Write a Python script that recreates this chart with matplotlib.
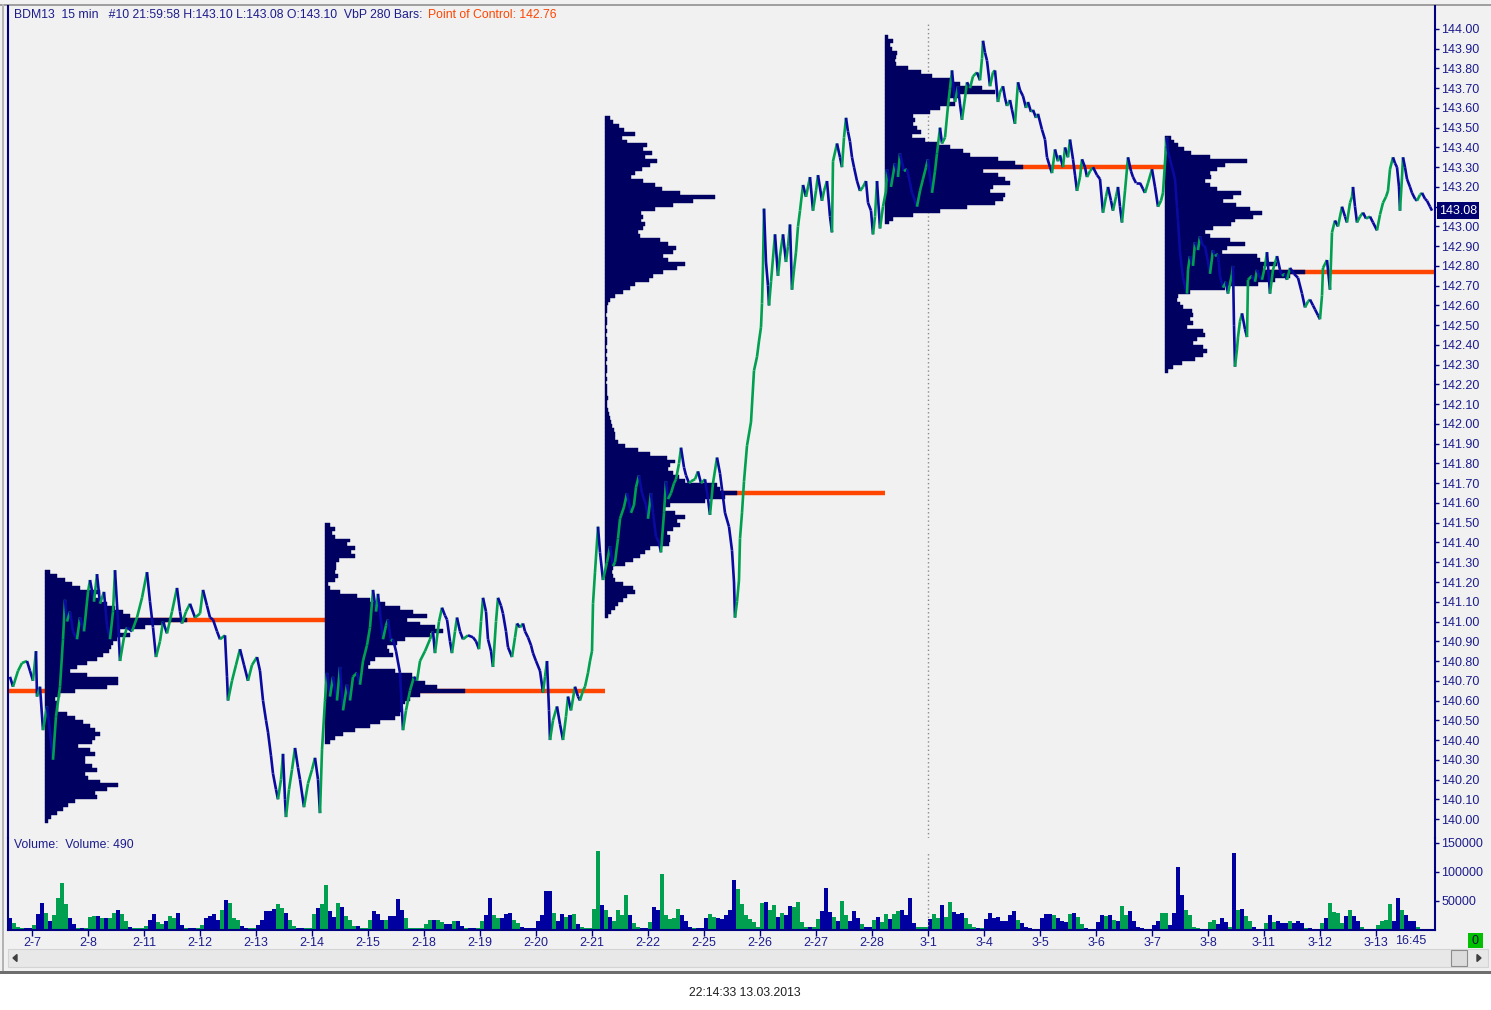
import numpy as np
import matplotlib.pyplot as plt
import matplotlib.transforms as mtransforms
from matplotlib.collections import LineCollection
from matplotlib.patches import Rectangle, Polygon

plt.rcParams["font.family"] = ["Liberation Sans", "DejaVu Sans"]

W, H = 1491, 1010
NAVY = "#000060"
LINE_BLUE = "#0a0aa0"
GREEN = "#00a050"
POC_RED = "#ff4500"
TXT = "#1c1c8c"
BG = "#f1f1f1"

# ---- data -------------------------------------------------------------
bars_per_day = 56
day_labels = ["2-7", "2-8", "2-11", "2-12", "2-13", "2-14", "2-15", "2-18", "2-19",
              "2-20", "2-21", "2-22", "2-25", "2-26", "2-27", "2-28", "3-1", "3-4",
              "3-5", "3-6", "3-7", "3-8", "3-11", "3-12", "3-13"]
month_start_day = 16  # 3-1
price_ticks = np.round(np.arange(140.0, 144.001, 0.1), 2)
last_price = 143.08
prev_poc = 140.65

# (bar index since 2-7 open, close price)
price_pts = [
    (-22, 140.72), (-19, 140.67), (-14, 140.75), (-10, 140.79), (-5, 140.80), (-2, 140.75),
    (1, 140.70), (4, 140.85), (5, 140.62), (8, 140.67), (11, 140.45), (15, 140.57),
    (18, 140.44), (21, 140.30), (24, 140.52), (28, 140.67), (31, 140.91), (33, 141.11),
    (35, 141.00), (38, 141.05), (41, 140.95), (45, 140.91), (48, 141.02), (52, 140.95),
    (56, 141.15), (58, 141.21), (62, 141.10), (65, 141.24), (68, 141.09), (72, 141.15),
    (75, 140.98), (78, 140.91), (81, 141.05), (83, 141.26), (86, 141.00), (88, 140.80),
    (92, 140.92), (95, 140.97), (100, 140.95), (105, 141.02), (110, 141.12), (115, 141.25),
    (118, 141.10), (121, 140.97), (124, 140.82), (128, 140.90), (131, 141.00), (135, 140.94),
    (140, 141.05), (145, 141.17), (148, 141.05), (150, 140.99), (154, 141.05), (158, 141.09),
    (163, 141.02), (168, 141.04), (171, 141.16), (175, 141.08), (178, 141.02), (181, 141.01),
    (185, 140.95), (188, 140.91), (193, 140.93), (195, 140.72), (196, 140.60), (200, 140.70),
    (204, 140.78), (208, 140.86), (212, 140.78), (216, 140.70), (220, 140.78), (225, 140.82),
    (228, 140.75), (231, 140.60), (234, 140.50), (236, 140.44), (239, 140.32), (241, 140.23),
    (244, 140.15), (246, 140.10), (249, 140.20), (251, 140.33), (253, 140.10), (254, 140.01),
    (257, 140.15), (260, 140.25), (263, 140.36), (266, 140.26), (268, 140.20), (272, 140.06),
    (276, 140.18), (280, 140.25), (283, 140.31), (286, 140.20), (288, 140.03), (290, 140.35),
    (293, 140.60), (295, 140.74), (298, 140.62), (301, 140.72), (305, 140.60), (308, 140.77),
    (311, 140.55), (315, 140.68), (318, 140.60), (321, 140.72), (325, 140.74), (328, 140.68),
    (331, 140.80), (335, 140.88), (338, 140.97), (341, 141.16), (344, 141.05), (346, 141.14),
    (349, 141.00), (351, 140.91), (354, 140.98), (356, 141.01), (359, 140.90), (361, 140.91),
    (364, 140.85), (368, 140.74), (371, 140.45), (374, 140.55), (378, 140.65), (382, 140.72),
    (385, 140.70), (388, 140.80), (393, 140.85), (398, 140.91), (401, 140.95), (403, 140.84),
    (407, 141.00), (410, 141.07), (413, 141.03), (415, 141.01), (418, 140.90), (420, 140.84),
    (423, 140.95), (425, 141.02), (428, 140.95), (431, 140.91), (436, 140.93), (441, 140.92),
    (444, 140.90), (447, 140.86), (449, 141.00), (451, 141.12), (454, 141.05), (456, 140.91),
    (459, 140.85), (461, 140.77), (464, 141.00), (466, 141.12), (469, 141.08), (471, 141.04),
    (474, 140.95), (476, 140.87), (480, 140.82), (483, 140.92), (485, 140.99), (488, 140.97),
    (491, 140.99), (493, 140.95), (496, 140.92), (499, 140.88), (501, 140.84), (504, 140.80),
    (508, 140.75), (511, 140.64), (513, 140.72), (515, 140.80), (517, 140.55), (518, 140.40),
    (521, 140.50), (525, 140.57), (528, 140.48), (531, 140.40), (534, 140.52), (536, 140.62),
    (539, 140.55), (543, 140.67), (546, 140.62), (548, 140.60), (551, 140.65), (553, 140.67),
    (556, 140.74), (558, 140.80), (560, 140.85), (561, 141.09), (563, 141.25), (566, 141.48),
    (568, 141.35), (571, 141.21), (575, 141.30), (578, 141.38), (581, 141.28), (583, 141.30),
    (586, 141.42), (588, 141.52), (592, 141.58), (595, 141.65), (599, 141.55), (602, 141.59),
    (604, 141.68), (607, 141.74), (610, 141.65), (614, 141.59), (616, 141.52), (619, 141.65),
    (621, 141.55), (624, 141.43), (627, 141.40), (629, 141.35), (632, 141.55), (634, 141.71),
    (636, 141.62), (639, 141.65), (642, 141.70), (644, 141.72), (647, 141.80), (649, 141.88),
    (652, 141.78), (654, 141.74), (657, 141.70), (659, 141.71), (663, 141.72), (666, 141.76),
    (669, 141.70), (673, 141.72), (676, 141.62), (678, 141.54), (681, 141.70), (685, 141.83),
    (688, 141.75), (690, 141.67), (693, 141.55), (697, 141.48), (700, 141.36), (702, 141.20),
    (703, 141.02), (705, 141.10), (707, 141.21), (708, 141.42), (710, 141.55), (712, 141.71),
    (715, 141.89), (719, 142.01), (722, 142.27), (725, 142.34), (727, 142.42), (729, 142.49),
    (730, 142.61), (731, 142.80), (732, 143.09), (734, 142.82), (736, 142.70), (737, 142.60),
    (739, 142.72), (741, 142.84), (743, 142.96), (746, 142.75), (748, 142.85), (751, 142.96),
    (754, 142.82), (756, 142.90), (758, 143.01), (760, 142.68), (762, 142.78), (764, 142.87),
    (766, 143.00), (768, 143.08), (771, 143.21), (774, 143.15), (778, 143.25), (781, 143.08),
    (784, 143.18), (786, 143.26), (790, 143.13), (792, 143.18), (795, 143.23), (798, 143.05),
    (800, 142.97), (801, 143.33), (805, 143.42), (808, 143.35), (810, 143.30), (812, 143.45),
    (814, 143.55), (816, 143.48), (818, 143.43), (820, 143.35), (822, 143.30), (825, 143.23),
    (828, 143.18), (831, 143.20), (834, 143.23), (836, 143.12), (839, 143.08), (841, 142.96),
    (843, 143.05), (845, 143.23), (848, 142.99), (851, 143.10), (854, 143.18), (855, 143.29),
    (859, 143.20), (863, 143.32), (866, 143.25), (868, 143.37), (872, 143.28), (875, 143.29),
    (878, 143.22), (880, 143.17), (883, 143.13), (885, 143.10), (888, 143.18), (891, 143.24),
    (894, 143.30), (896, 143.34), (898, 143.25), (900, 143.17), (903, 143.28), (905, 143.37),
    (908, 143.50), (910, 143.42), (913, 143.45), (916, 143.61), (918, 143.70), (920, 143.79),
    (922, 143.68), (923, 143.63), (926, 143.71), (928, 143.62), (930, 143.54), (933, 143.65),
    (935, 143.73), (938, 143.70), (941, 143.76), (945, 143.78), (948, 143.74), (950, 143.85),
    (951, 143.94), (953, 143.88), (955, 143.84), (958, 143.71), (961, 143.78), (963, 143.79),
    (966, 143.63), (968, 143.68), (971, 143.71), (973, 143.65), (975, 143.61), (978, 143.64),
    (980, 143.59), (983, 143.52), (986, 143.73), (988, 143.69), (991, 143.66), (994, 143.60),
    (996, 143.63), (999, 143.58), (1001, 143.59), (1004, 143.55), (1006, 143.57), (1010, 143.49),
    (1013, 143.44), (1015, 143.35), (1018, 143.30), (1020, 143.27), (1023, 143.39), (1026, 143.33),
    (1028, 143.36), (1031, 143.30), (1033, 143.40), (1036, 143.35), (1038, 143.44), (1041, 143.34),
    (1043, 143.26), (1045, 143.18), (1048, 143.25), (1050, 143.34), (1053, 143.30), (1055, 143.25),
    (1058, 143.28), (1061, 143.30), (1065, 143.26), (1068, 143.24), (1071, 143.07), (1074, 143.15),
    (1076, 143.20), (1079, 143.13), (1081, 143.08), (1084, 143.15), (1086, 143.20), (1088, 143.10),
    (1090, 143.02), (1093, 143.18), (1096, 143.35), (1099, 143.28), (1101, 143.25), (1104, 143.22),
    (1108, 143.22), (1111, 143.19), (1113, 143.17), (1116, 143.22), (1120, 143.29), (1123, 143.20),
    (1126, 143.10), (1129, 143.13), (1131, 143.17), (1134, 143.40), (1135, 143.45), (1136, 143.38),
    (1138, 143.34), (1140, 143.30), (1143, 143.24), (1145, 143.10), (1146, 143.03), (1148, 142.87),
    (1151, 142.74), (1153, 142.70), (1155, 142.66), (1156, 142.78), (1158, 142.85), (1161, 142.80),
    (1163, 142.92), (1166, 142.88), (1168, 142.95), (1171, 142.90), (1173, 142.90), (1176, 142.82),
    (1178, 142.76), (1181, 142.88), (1183, 142.85), (1186, 142.86), (1188, 142.75), (1191, 142.69),
    (1194, 142.72), (1196, 142.66), (1200, 142.76), (1201, 142.80), (1202, 142.50), (1203, 142.29),
    (1205, 142.38), (1206, 142.44), (1208, 142.52), (1210, 142.56), (1213, 142.48), (1215, 142.44),
    (1216, 142.73), (1220, 142.75), (1223, 142.72), (1225, 142.78), (1228, 142.74), (1230, 142.73),
    (1233, 142.80), (1235, 142.87), (1238, 142.66), (1241, 142.78), (1245, 142.85), (1248, 142.78),
    (1250, 142.75), (1253, 142.76), (1255, 142.73), (1258, 142.79), (1262, 142.76), (1266, 142.74),
    (1270, 142.66), (1273, 142.59), (1276, 142.62), (1278, 142.63), (1281, 142.60), (1283, 142.58),
    (1286, 142.55), (1288, 142.53), (1290, 142.65), (1291, 142.79), (1295, 142.83), (1298, 142.68),
    (1300, 142.97), (1303, 143.03), (1306, 143.00), (1310, 143.10), (1313, 143.05), (1315, 143.02),
    (1318, 143.12), (1320, 143.15), (1321, 143.20), (1323, 143.10), (1325, 143.02), (1328, 143.05),
    (1331, 143.07), (1334, 143.04), (1338, 143.05), (1341, 143.02), (1345, 142.98), (1348, 143.06),
    (1351, 143.12), (1354, 143.15), (1356, 143.18), (1358, 143.29), (1361, 143.35), (1363, 143.32),
    (1365, 143.30), (1367, 143.20), (1368, 143.08), (1370, 143.25), (1371, 143.35), (1373, 143.30),
    (1375, 143.24), (1378, 143.20), (1380, 143.17), (1383, 143.14), (1385, 143.13), (1388, 143.16),
    (1390, 143.17), (1393, 143.14), (1395, 143.13), (1398, 143.10), (1400, 143.08),
]

# volume profiles (280 bars each): start bar, top price, widths per 0.02 level (top -> bottom)
vp_step = 0.02
vp_start = [13, 293, 573, 853, 1133]
vp_top = [141.26, 141.50, 143.56, 143.97, 143.46]
vp1 = [5, 12, 20, 27, 35, 55, 50, 55, 62, 70, 78, 85, 142, 120, 100, 75, 85, 72, 68, 66,
       64, 58, 52, 42, 32, 25, 42, 73, 73, 62, 30, 15, 10, 12, 13, 13, 22, 30, 38, 45,
       50, 55, 50, 47, 33, 45, 50, 40, 40, 47, 52, 40, 43, 55, 73, 62, 50, 52, 30, 23,
       18, 12, 6, 3]
vp2 = [5, 10, 7, 10, 25, 22, 30, 26, 30, 14, 11, 11, 10, 13, 10, 3, 5, 15, 32, 45,
       60, 75, 88, 102, 82, 95, 110, 118, 105, 80, 72, 62, 64, 68, 50, 45, 43, 70, 87, 90,
       100, 112, 140, 95, 85, 80, 76, 76, 75, 70, 55, 45, 30, 18, 10, 5]
vp3 = [5, 8, 14, 19, 30, 17, 22, 42, 38, 47, 40, 52, 45, 37, 30, 26, 38, 50, 57, 75,
       110, 88, 68, 50, 36, 38, 36, 40, 38, 33, 35, 55, 63, 71, 68, 58, 63, 80, 72, 58,
       48, 44, 30, 25, 18, 10, 5,
       3, 2, 2, 1, 2, 2, 1, 2, 1, 2, 2, 1, 2, 1, 2, 1, 2, 2, 1, 2,
       1, 2, 2, 2, 3, 2, 2, 3, 4, 5,
       6, 7, 9, 10, 10, 13, 20, 33, 45, 62, 70, 65, 63, 68, 74, 80, 112, 115, 132, 120,
       100, 65, 60, 70, 80, 72, 75, 68, 62, 65, 65, 64, 45, 40, 35, 28, 20, 8, 7, 8,
       10, 18, 28, 30, 22, 18, 13, 10, 6, 3]
vp4 = [3, 8, 5, 7, 12, 11, 10, 11, 23, 36, 47, 65, 75, 97, 110, 73, 63, 70, 55, 45,
       28, 30, 28, 32, 36, 27, 40, 52, 65, 78, 85, 113, 130, 138, 98, 113, 120, 125, 108, 105,
       120, 118, 110, 82, 55, 28, 8, 4]
vp5 = [6, 9, 13, 19, 26, 45, 82, 60, 52, 45, 46, 40, 45, 52, 76, 68, 58, 71, 85, 97,
       88, 70, 66, 48, 40, 45, 65, 80, 62, 57, 92, 95, 112, 98, 140, 125, 110, 93, 60, 25,
       13, 12, 15, 18, 27, 28, 25, 28, 22, 38, 40, 32, 28, 38, 42, 38, 30, 17, 8, 3]
profiles = [vp1, vp2, vp3, vp4, vp5]

# volume in thousands, one value per 4 bars, starting 24 bars before 2-7
vol_bucket = 4
vol_pre = [20, 12, 5, 4, 4, 4]
vol_days = [
    [9, 27, 47, 30, 15, 26, 56, 81, 45, 20, 10, 3, 3, 3],
    [22, 24, 24, 20, 21, 21, 30, 34, 27, 15, 5, 3, 3, 3],
    [7, 18, 27, 14, 11, 15, 24, 20, 30, 9, 3, 3, 3, 3],
    [9, 21, 24, 28, 18, 34, 51, 47, 21, 18, 7, 3, 3, 3],
    [9, 17, 32, 33, 37, 45, 38, 30, 18, 7, 3, 3, 3, 3],
    [27, 38, 45, 78, 33, 22, 47, 40, 24, 18, 7, 7, 3, 3],
    [18, 32, 28, 18, 17, 24, 24, 53, 34, 20, 4, 4, 4, 4],
    [11, 17, 18, 18, 14, 11, 11, 15, 15, 7, 3, 3, 3, 3],
    [15, 25, 55, 25, 20, 20, 28, 30, 18, 12, 6, 3, 3, 3],
    [16, 25, 68, 68, 30, 16, 28, 23, 25, 27, 10, 5, 4, 4],
    [36, 137, 43, 35, 23, 16, 35, 25, 61, 25, 12, 6, 3, 3],
    [13, 40, 34, 96, 25, 19, 21, 37, 25, 15, 6, 3, 3, 3],
    [21, 27, 23, 21, 19, 26, 34, 87, 71, 45, 26, 19, 13, 5],
    [47, 49, 34, 43, 22, 29, 25, 41, 39, 49, 13, 5, 5, 5],
    [19, 32, 72, 31, 22, 16, 50, 25, 16, 33, 21, 10, 5, 5],
    [17, 22, 13, 28, 19, 27, 33, 34, 25, 55, 12, 5, 5, 5],
    [19, 28, 21, 43, 23, 49, 31, 27, 29, 21, 10, 5, 3, 3],
    [19, 29, 21, 23, 16, 15, 25, 33, 17, 12, 5, 4, 2, 2],
    [20, 28, 28, 25, 20, 15, 14, 27, 29, 22, 10, 3, 2, 2],
    [14, 26, 24, 25, 17, 15, 41, 25, 33, 16, 6, 3, 2, 2],
    [8, 16, 30, 30, 9, 30, 108, 60, 35, 25, 6, 3, 2, 2],
    [14, 17, 10, 20, 14, 5, 132, 35, 37, 24, 16, 5, 2, 2],
    [12, 25, 14, 15, 12, 12, 15, 12, 15, 12, 3, 3, 2, 2],
    [12, 20, 47, 31, 29, 12, 24, 35, 24, 15, 6, 2, 2, 2],
    [9, 15, 18, 45, 15, 56, 35, 26, 15, 15, 5, 2, 2, 2],
]
vol_ticks = [50000, 100000, 150000]

# ---- figure ---------------------------------------------------------------
fig = plt.figure(figsize=(W / 100, H / 100), dpi=100)
fig.patch.set_facecolor("white")


def fx(px):
    return px / W


def fy(py):
    return 1 - py / H


def box(x0, y0, x1, y1, **kw):
    fig.add_artist(Rectangle((fx(x0), fy(y1)), fx(x1) - fx(x0), fy(y0) - fy(y1),
                             transform=fig.transFigure, **kw))


# window chrome
box(0, 0, W, 974, facecolor=BG, edgecolor="none", zorder=-5)
box(0, 4, W, 6, facecolor="#a0a0a0", edgecolor="none", zorder=-4)
box(2, 4, 4, 972, facecolor="#b4b4b4", edgecolor="none", zorder=-4)
box(0, 971, W, 974, facecolor="#6e6e6e", edgecolor="none", zorder=-4)
box(8, 949, 1488, 967, facecolor="#e8e8e8", edgecolor="#d4d4d4", lw=0.8, zorder=-3)
box(1451, 950, 1467, 966, facecolor="#dcdcdc", edgecolor="#8c8c8c", lw=0.8, zorder=-2)
fig.add_artist(Polygon([(fx(13), fy(958)), (fx(17), fy(954.5)), (fx(17), fy(961.5))],
                       closed=True, transform=fig.transFigure, color="#404040", zorder=-2))
fig.add_artist(Polygon([(fx(1481), fy(958)), (fx(1477), fy(954.5)), (fx(1477), fy(961.5))],
                       closed=True, transform=fig.transFigure, color="#404040", zorder=-2))
box(1468, 933, 1483, 948, facecolor="#00c000", edgecolor="none", zorder=-2)
fig.text(fx(1475.5), fy(940.5), "0", ha="center", va="center", fontsize=9, color="#101040")

# ---- price pane -----------------------------------------------------------
ax = fig.add_axes([fx(8), fy(838), fx(1435) - fx(8), fy(6) - fy(838)])
ax.set_facecolor(BG)
ax.set_xlim(-24, 1403)
ax.set_ylim(139.904, 144.116)
for side in ["top", "bottom"]:
    ax.spines[side].set_visible(False)
for side in ["left", "right"]:
    ax.spines[side].set_color("#000080")
    ax.spines[side].set_linewidth(1.5)
ax.set_xticks([])
ax.yaxis.tick_right()
ax.set_yticks(price_ticks)
# the last-price box sits on top of the neighbouring tick label
ax.set_yticklabels(["" if abs(v - last_price) < 0.05 else f"{v:.2f}" for v in price_ticks])
ax.tick_params(axis="y", right=True, left=False, length=3, width=1, color="#000080",
               labelcolor=TXT, labelsize=9, pad=1.5)

# previous point of control carried in from the left
ax.hlines(prev_poc, -24, vp_start[0], color=POC_RED, lw=3.2, zorder=1.5)

for k, widths in enumerate(profiles):
    widths = np.array(widths)
    levels = vp_top[k] - vp_step * (np.arange(len(widths)) + 0.5)
    ax.barh(levels, widths, left=vp_start[k], height=vp_step, color=NAVY,
            edgecolor=NAVY, linewidth=0.3, zorder=2)
    poc = levels[np.argmax(widths)]
    end = vp_start[k + 1] if k + 1 < len(vp_start) else 1403
    ax.hlines(poc, vp_start[k], end, color=POC_RED, lw=3.2, zorder=1.5)

pts = np.array(price_pts)
bars, price = pts[:, 0], pts[:, 1]
segs = np.stack([np.column_stack([bars[:-1], price[:-1]]),
                 np.column_stack([bars[1:], price[1:]])], axis=1)
seg_colors = [GREEN if b > a else LINE_BLUE for a, b in zip(price[:-1], price[1:])]
ax.add_collection(LineCollection(segs, colors=seg_colors, linewidths=1.9, zorder=3,
                                 capstyle="butt"))

month_x = month_start_day * bars_per_day
ax.axvline(month_x, ymax=0.981, color="#8a8a8a", lw=1, ls=(0, (1, 2)), zorder=1)

trans = mtransforms.blended_transform_factory(ax.transAxes, ax.transData)
ax.text(1 + 4 / 1427, last_price, f"{last_price:.2f}", transform=trans, ha="left",
        va="center", color="white", fontsize=9, clip_on=False, zorder=10,
        bbox=dict(facecolor="#000070", edgecolor="none", pad=1.6))

# ---- volume pane ----------------------------------------------------------
axv = fig.add_axes([fx(8), fy(930), fx(1435) - fx(8), fy(838) - fy(930)])
axv.patch.set_alpha(0)
axv.set_xlim(-24, 1403)
axv.set_ylim(0, 158600)
axv.spines["top"].set_visible(False)
for side in ["left", "right", "bottom"]:
    axv.spines[side].set_color("#000080")
    axv.spines[side].set_linewidth(1.5)

vol = np.array(vol_pre + [v for day in vol_days for v in day]) * 1000
vol_left = -24 + vol_bucket * np.arange(len(vol))
p_start = np.interp(vol_left, bars, price)
p_end = np.interp(vol_left + vol_bucket, bars, price)
vol_colors = [GREEN if e > s else "#0000a0" for s, e in zip(p_start, p_end)]
axv.bar(vol_left, vol, width=vol_bucket * 0.92, align="edge", color=vol_colors, linewidth=0)

axv.axvline(month_x, ymax=0.846, color="#8a8a8a", lw=1, ls=(0, (1, 2)))

axv.yaxis.tick_right()
axv.set_yticks(vol_ticks)
axv.set_yticklabels([str(v) for v in vol_ticks])
axv.set_xticks([d * bars_per_day for d in range(len(day_labels))])
axv.set_xticklabels(day_labels)
axv.tick_params(axis="y", right=True, left=False, length=3, width=1, color="#000080",
                labelcolor=TXT, labelsize=9, pad=1.5)
axv.tick_params(axis="x", length=4, width=1, color="#000080", labelcolor=TXT,
                labelsize=9, pad=1)
axv.text(1379, -8000, "16:45", ha="center", va="top", color=TXT, fontsize=9)

# ---- texts ----------------------------------------------------------------
head = fig.text(fx(14), fy(15), "BDM13  15 min   #10 21:59:58 H:143.10 L:143.08 O:143.10  "
                "VbP 280 Bars:", color=TXT, fontsize=8.8, va="center")
fig.canvas.draw()
bb = head.get_window_extent()
fig.text((bb.x1 + 6) / W, fy(15), "Point of Control: 142.76", color=POC_RED,
         fontsize=8.8, va="center")
fig.text(fx(14), fy(845), "Volume:  Volume: 490", color=TXT, fontsize=8.8, va="center")
fig.text(fx(745), fy(993), "22:14:33 13.03.2013", color="#202020", fontsize=8.8,
         ha="center", va="center")

fig.savefig("out.png", dpi=100, facecolor=fig.get_facecolor())
